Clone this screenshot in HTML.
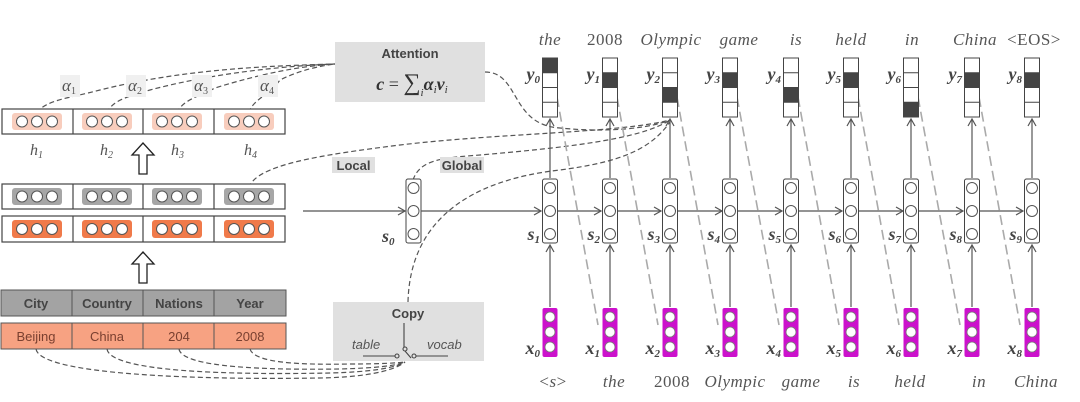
<!DOCTYPE html>
<html><head><meta charset="utf-8"><style>
html,body{margin:0;padding:0;background:#fff;}
svg{display:block;}
.sans{font-family:"Liberation Sans",sans-serif;}
.ser{font-family:"Liberation Serif",serif;}
</style></head><body>
<svg width="1080" height="402" viewBox="0 0 1080 402" xmlns="http://www.w3.org/2000/svg">
<defs>
<marker id="ah" markerWidth="10" markerHeight="10" refX="8" refY="5" orient="auto" markerUnits="userSpaceOnUse">
<path d="M1,1 L8,5 L1,9" fill="none" stroke="#555" stroke-width="1.2"/></marker>
</defs>

<!-- dark dashed curves (behind) -->
<g fill="none" stroke="#555" stroke-width="1.2" stroke-dasharray="5,3">
<path d="M37,113 C45,100 70,98 100,90 C180,70 260,66 335,64"/>
<path d="M107,113 C112,100 130,96 150,90 C210,74 280,66 335,64"/>
<path d="M177,113 C182,100 200,96 215,88 C260,74 300,66 335,64"/>
<path d="M249,113 C252,100 268,96 280,80 C300,70 320,66 335,64"/>
<path d="M485,72 C520,72 510,125 560,128 C610,133 650,128 670,120"/>
<path d="M249,188 C255,165 320,155 400,145 C500,133 620,133 670,120"/>
<path d="M413,180 C420,160 440,158 480,155 C560,148 640,140 670,120"/>
<path d="M408,302 C410,220 470,180 560,170 C620,162 650,150 670,122"/>
<path d="M36,349 C40,375 200,380 320,378 C370,377 395,370 405,362"/>
<path d="M107,349 C110,372 230,375 330,373 C370,372 395,368 405,362"/>
<path d="M179,349 C182,368 270,370 340,369 C375,368 395,366 405,362"/>
<path d="M250,349 C254,363 300,365 350,364 C380,364 397,363 405,362"/>
</g>

<!-- LEFT: rows -->
<g stroke="#444" stroke-width="1.2">
<rect x="2" y="109" width="283" height="25" fill="#fff"/>
<line x1="73" y1="109" x2="73" y2="134"/><line x1="143" y1="109" x2="143" y2="134"/><line x1="214" y1="109" x2="214" y2="134"/>
<rect x="2" y="184" width="283" height="25" fill="#fff"/>
<line x1="73" y1="184" x2="73" y2="209"/><line x1="143" y1="184" x2="143" y2="209"/><line x1="214" y1="184" x2="214" y2="209"/>
<rect x="2" y="216" width="283" height="26" fill="#fff"/>
<line x1="73" y1="216" x2="73" y2="242"/><line x1="143" y1="216" x2="143" y2="242"/><line x1="214" y1="216" x2="214" y2="242"/>
</g>
<g>
<rect x="12" y="113" width="50" height="17" rx="3" fill="#f8cdbd"/>
<rect x="82" y="113" width="50" height="17" rx="3" fill="#f8cdbd"/>
<rect x="152" y="113" width="50" height="17" rx="3" fill="#f8cdbd"/>
<rect x="224" y="113" width="50" height="17" rx="3" fill="#f8cdbd"/>
<rect x="12" y="188" width="50" height="17" rx="3" fill="#a6a6a6"/>
<rect x="82" y="188" width="50" height="17" rx="3" fill="#a6a6a6"/>
<rect x="152" y="188" width="50" height="17" rx="3" fill="#a6a6a6"/>
<rect x="224" y="188" width="50" height="17" rx="3" fill="#a6a6a6"/>
<rect x="12" y="220" width="50" height="18" rx="3" fill="#f07a4a"/>
<rect x="82" y="220" width="50" height="18" rx="3" fill="#f07a4a"/>
<rect x="152" y="220" width="50" height="18" rx="3" fill="#f07a4a"/>
<rect x="224" y="220" width="50" height="18" rx="3" fill="#f07a4a"/>
</g>
<g fill="#fff" stroke="#555" stroke-width="1">
<circle cx="22" cy="121.5" r="5.5"/><circle cx="37" cy="121.5" r="5.5"/><circle cx="52" cy="121.5" r="5.5"/>
<circle cx="92" cy="121.5" r="5.5"/><circle cx="107" cy="121.5" r="5.5"/><circle cx="122" cy="121.5" r="5.5"/>
<circle cx="162" cy="121.5" r="5.5"/><circle cx="177" cy="121.5" r="5.5"/><circle cx="192" cy="121.5" r="5.5"/>
<circle cx="234" cy="121.5" r="5.5"/><circle cx="249" cy="121.5" r="5.5"/><circle cx="264" cy="121.5" r="5.5"/>
<circle cx="22" cy="196.5" r="5.5"/><circle cx="37" cy="196.5" r="5.5"/><circle cx="52" cy="196.5" r="5.5"/>
<circle cx="92" cy="196.5" r="5.5"/><circle cx="107" cy="196.5" r="5.5"/><circle cx="122" cy="196.5" r="5.5"/>
<circle cx="162" cy="196.5" r="5.5"/><circle cx="177" cy="196.5" r="5.5"/><circle cx="192" cy="196.5" r="5.5"/>
<circle cx="234" cy="196.5" r="5.5"/><circle cx="249" cy="196.5" r="5.5"/><circle cx="264" cy="196.5" r="5.5"/>
<circle cx="22" cy="229" r="5.5"/><circle cx="37" cy="229" r="5.5"/><circle cx="52" cy="229" r="5.5"/>
<circle cx="92" cy="229" r="5.5"/><circle cx="107" cy="229" r="5.5"/><circle cx="122" cy="229" r="5.5"/>
<circle cx="162" cy="229" r="5.5"/><circle cx="177" cy="229" r="5.5"/><circle cx="192" cy="229" r="5.5"/>
<circle cx="234" cy="229" r="5.5"/><circle cx="249" cy="229" r="5.5"/><circle cx="264" cy="229" r="5.5"/>
</g>
<g class="ser" font-style="italic" font-size="16" fill="#555">
<text x="30" y="155">h<tspan font-size="10" dy="3">1</tspan></text>
<text x="100" y="155">h<tspan font-size="10" dy="3">2</tspan></text>
<text x="171" y="155">h<tspan font-size="10" dy="3">3</tspan></text>
<text x="244" y="155">h<tspan font-size="10" dy="3">4</tspan></text>
</g>
<g fill="#f0f0f0"><rect x="60" y="75" width="20" height="22"/><rect x="126" y="75" width="20" height="22"/><rect x="192" y="75" width="20" height="22"/><rect x="258" y="75" width="20" height="22"/></g>
<g class="ser" font-style="italic" font-size="17" fill="#555">
<text x="62" y="91">α<tspan font-size="10" dy="3" font-style="normal">1</tspan></text>
<text x="128" y="91">α<tspan font-size="10" dy="3" font-style="normal">2</tspan></text>
<text x="194" y="91">α<tspan font-size="10" dy="3" font-style="normal">3</tspan></text>
<text x="260" y="91">α<tspan font-size="10" dy="3" font-style="normal">4</tspan></text>
</g>
<path d="M139,174 L139,155 L132,155 L143,143 L154,155 L147,155 L147,174 Z" fill="#fff" stroke="#222" stroke-width="1.3"/>
<path d="M139,283 L139,264 L132,264 L143,252 L154,264 L147,264 L147,283 Z" fill="#fff" stroke="#222" stroke-width="1.3"/>

<!-- table -->
<rect x="1" y="290" width="285" height="26" fill="#a3a3a3" stroke="#555"/>
<rect x="1" y="323" width="285" height="26" fill="#f7a282" stroke="#555"/>
<g stroke="#555"><line x1="72" y1="290" x2="72" y2="316"/><line x1="143" y1="290" x2="143" y2="316"/><line x1="214" y1="290" x2="214" y2="316"/>
<line x1="72" y1="323" x2="72" y2="349"/><line x1="143" y1="323" x2="143" y2="349"/><line x1="214" y1="323" x2="214" y2="349"/></g>
<g class="sans" font-size="13" text-anchor="middle">
<g font-weight="bold" fill="#444"><text x="36" y="308">City</text><text x="107" y="308">Country</text><text x="179" y="308">Nations</text><text x="250" y="308">Year</text></g>
<g fill="#7a4030"><text x="36" y="341">Beijing</text><text x="107" y="341">China</text><text x="179" y="341">204</text><text x="250" y="341">2008</text></g>
</g>

<!-- boxes middle -->
<rect x="335" y="42" width="150" height="60" fill="#e0e0e0"/>
<text x="410" y="58" class="sans" font-size="13" font-weight="bold" fill="#444" text-anchor="middle">Attention</text>
<text x="412" y="90" class="ser" font-size="18" font-weight="bold" font-style="italic" fill="#333" text-anchor="middle">c <tspan font-style="normal" font-weight="normal">= </tspan><tspan font-style="normal" font-weight="normal" font-size="24">∑</tspan><tspan font-size="11" dy="6" font-weight="normal">i</tspan><tspan dy="-6">α</tspan><tspan font-size="11" dy="3" font-weight="normal">i</tspan><tspan dy="-3">v</tspan><tspan font-size="11" dy="3" font-weight="normal">i</tspan></text>
<rect x="332" y="157" width="43" height="16" fill="#e0e0e0"/>
<text x="353.5" y="170" class="sans" font-size="13" font-weight="bold" fill="#444" text-anchor="middle">Local</text>
<rect x="440" y="157" width="44" height="16" fill="#e0e0e0"/>
<text x="462" y="170" class="sans" font-size="13" font-weight="bold" fill="#444" text-anchor="middle">Global</text>
<rect x="333" y="302" width="151" height="59" fill="#e0e0e0"/>
<text x="408" y="318" class="sans" font-size="13" font-weight="bold" fill="#444" text-anchor="middle">Copy</text>
<text x="352" y="349" class="sans" font-size="13" font-style="italic" fill="#555">table</text>
<text x="427" y="349" class="sans" font-size="13" font-style="italic" fill="#555">vocab</text>
<g stroke="#444" stroke-width="1.1" fill="#e0e0e0">
<line x1="404" y1="323" x2="404" y2="347"/>
<line x1="363" y1="356" x2="395" y2="356"/><line x1="416" y1="356" x2="448" y2="356"/>
<line x1="405" y1="351" x2="411" y2="358"/>
<circle cx="405" cy="349" r="2"/><circle cx="397" cy="356" r="2"/><circle cx="414" cy="356" r="2"/>
</g>

<!-- s0 -->
<line x1="303" y1="211" x2="405" y2="211" stroke="#555" stroke-width="1.2" marker-end="url(#ah)"/>
<rect x="406" y="179" width="15" height="64" rx="2" fill="#fff" stroke="#444"/>
<g fill="#fff" stroke="#555"><circle cx="413.5" cy="188" r="5.5"/><circle cx="413.5" cy="211" r="5.5"/><circle cx="413.5" cy="234" r="5.5"/></g>
<text x="382" y="242" class="ser" font-size="18" font-weight="bold" font-style="italic" fill="#444">s<tspan font-size="11" dy="3">0</tspan></text>

<g stroke="#555" stroke-width="1.2" marker-end="url(#ah)">
<line x1="421" y1="211" x2="541" y2="211"/>
<line x1="558" y1="211" x2="601" y2="211"/>
<line x1="618" y1="211" x2="661" y2="211"/>
<line x1="678" y1="211" x2="722" y2="211"/>
<line x1="738" y1="211" x2="782" y2="211"/>
<line x1="799" y1="211" x2="842" y2="211"/>
<line x1="859" y1="211" x2="903" y2="211"/>
<line x1="919" y1="211" x2="963" y2="211"/>
<line x1="980" y1="211" x2="1023" y2="211"/>
</g>
<g stroke="#555" stroke-width="1.2" marker-end="url(#ah)">
<line x1="550" y1="307" x2="550" y2="245"/><line x1="550" y1="178" x2="550" y2="119"/>
<line x1="610" y1="307" x2="610" y2="245"/><line x1="610" y1="178" x2="610" y2="119"/>
<line x1="670" y1="307" x2="670" y2="245"/><line x1="670" y1="178" x2="670" y2="119"/>
<line x1="730" y1="307" x2="730" y2="245"/><line x1="730" y1="178" x2="730" y2="119"/>
<line x1="791" y1="307" x2="791" y2="245"/><line x1="791" y1="178" x2="791" y2="119"/>
<line x1="851" y1="307" x2="851" y2="245"/><line x1="851" y1="178" x2="851" y2="119"/>
<line x1="911" y1="307" x2="911" y2="245"/><line x1="911" y1="178" x2="911" y2="119"/>
<line x1="972" y1="307" x2="972" y2="245"/><line x1="972" y1="178" x2="972" y2="119"/>
<line x1="1032" y1="307" x2="1032" y2="245"/><line x1="1032" y1="178" x2="1032" y2="119"/>
</g>
<g stroke="#aaa" stroke-width="1.6" stroke-dasharray="10,5" fill="none">
<line x1="557" y1="97" x2="598" y2="325"/>
<line x1="617" y1="97" x2="658" y2="325"/>
<line x1="677" y1="97" x2="718" y2="325"/>
<line x1="737" y1="97" x2="779" y2="325"/>
<line x1="798" y1="97" x2="839" y2="325"/>
<line x1="858" y1="97" x2="899" y2="325"/>
<line x1="918" y1="97" x2="960" y2="325"/>
<line x1="979" y1="97" x2="1020" y2="325"/>
</g>

<g stroke="#444" stroke-width="1" fill="#fff">
<rect x="542.5" y="58" width="15" height="59"/><rect x="602.5" y="58" width="15" height="59"/><rect x="662.5" y="58" width="15" height="59"/>
<rect x="722.5" y="58" width="15" height="59"/><rect x="783.5" y="58" width="15" height="59"/><rect x="843.5" y="58" width="15" height="59"/>
<rect x="903.5" y="58" width="15" height="59"/><rect x="964.5" y="58" width="15" height="59"/><rect x="1024.5" y="58" width="15" height="59"/>
</g>
<g fill="#444">
<rect x="542.5" y="58" width="15" height="14.75"/>
<rect x="602.5" y="72.75" width="15" height="14.75"/>
<rect x="662.5" y="87.5" width="15" height="14.75"/>
<rect x="722.5" y="72.75" width="15" height="14.75"/>
<rect x="783.5" y="87.5" width="15" height="14.75"/>
<rect x="843.5" y="72.75" width="15" height="14.75"/>
<rect x="903.5" y="102.25" width="15" height="14.75"/>
<rect x="964.5" y="72.75" width="15" height="14.75"/>
<rect x="1024.5" y="72.75" width="15" height="14.75"/>
</g>
<g stroke="#444" stroke-width="1">
<path d="M542.5,72.75h15M542.5,87.5h15M542.5,102.25h15"/>
<path d="M602.5,72.75h15M602.5,87.5h15M602.5,102.25h15"/>
<path d="M662.5,72.75h15M662.5,87.5h15M662.5,102.25h15"/>
<path d="M722.5,72.75h15M722.5,87.5h15M722.5,102.25h15"/>
<path d="M783.5,72.75h15M783.5,87.5h15M783.5,102.25h15"/>
<path d="M843.5,72.75h15M843.5,87.5h15M843.5,102.25h15"/>
<path d="M903.5,72.75h15M903.5,87.5h15M903.5,102.25h15"/>
<path d="M964.5,72.75h15M964.5,87.5h15M964.5,102.25h15"/>
<path d="M1024.5,72.75h15M1024.5,87.5h15M1024.5,102.25h15"/>
</g>

<g stroke="#444" stroke-width="1" fill="#fff">
<rect x="542.5" y="179" width="15" height="64" rx="2"/><rect x="602.5" y="179" width="15" height="64" rx="2"/><rect x="662.5" y="179" width="15" height="64" rx="2"/>
<rect x="722.5" y="179" width="15" height="64" rx="2"/><rect x="783.5" y="179" width="15" height="64" rx="2"/><rect x="843.5" y="179" width="15" height="64" rx="2"/>
<rect x="903.5" y="179" width="15" height="64" rx="2"/><rect x="964.5" y="179" width="15" height="64" rx="2"/><rect x="1024.5" y="179" width="15" height="64" rx="2"/>
</g>
<g fill="#fff" stroke="#555">
<circle cx="550" cy="188" r="5.5"/><circle cx="550" cy="211" r="5.5"/><circle cx="550" cy="234" r="5.5"/>
<circle cx="610" cy="188" r="5.5"/><circle cx="610" cy="211" r="5.5"/><circle cx="610" cy="234" r="5.5"/>
<circle cx="670" cy="188" r="5.5"/><circle cx="670" cy="211" r="5.5"/><circle cx="670" cy="234" r="5.5"/>
<circle cx="730" cy="188" r="5.5"/><circle cx="730" cy="211" r="5.5"/><circle cx="730" cy="234" r="5.5"/>
<circle cx="791" cy="188" r="5.5"/><circle cx="791" cy="211" r="5.5"/><circle cx="791" cy="234" r="5.5"/>
<circle cx="851" cy="188" r="5.5"/><circle cx="851" cy="211" r="5.5"/><circle cx="851" cy="234" r="5.5"/>
<circle cx="911" cy="188" r="5.5"/><circle cx="911" cy="211" r="5.5"/><circle cx="911" cy="234" r="5.5"/>
<circle cx="972" cy="188" r="5.5"/><circle cx="972" cy="211" r="5.5"/><circle cx="972" cy="234" r="5.5"/>
<circle cx="1032" cy="188" r="5.5"/><circle cx="1032" cy="211" r="5.5"/><circle cx="1032" cy="234" r="5.5"/>
</g>

<g fill="#cc11cc">
<rect x="542.5" y="308" width="15" height="49" rx="2"/><rect x="602.5" y="308" width="15" height="49" rx="2"/><rect x="662.5" y="308" width="15" height="49" rx="2"/>
<rect x="722.5" y="308" width="15" height="49" rx="2"/><rect x="783.5" y="308" width="15" height="49" rx="2"/><rect x="843.5" y="308" width="15" height="49" rx="2"/>
<rect x="903.5" y="308" width="15" height="49" rx="2"/><rect x="964.5" y="308" width="15" height="49" rx="2"/><rect x="1024.5" y="308" width="15" height="49" rx="2"/>
</g>
<g fill="#fff" stroke="#777" stroke-width="0.8">
<circle cx="550" cy="317" r="5"/><circle cx="550" cy="332" r="5"/><circle cx="550" cy="347" r="5"/>
<circle cx="610" cy="317" r="5"/><circle cx="610" cy="332" r="5"/><circle cx="610" cy="347" r="5"/>
<circle cx="670" cy="317" r="5"/><circle cx="670" cy="332" r="5"/><circle cx="670" cy="347" r="5"/>
<circle cx="730" cy="317" r="5"/><circle cx="730" cy="332" r="5"/><circle cx="730" cy="347" r="5"/>
<circle cx="791" cy="317" r="5"/><circle cx="791" cy="332" r="5"/><circle cx="791" cy="347" r="5"/>
<circle cx="851" cy="317" r="5"/><circle cx="851" cy="332" r="5"/><circle cx="851" cy="347" r="5"/>
<circle cx="911" cy="317" r="5"/><circle cx="911" cy="332" r="5"/><circle cx="911" cy="347" r="5"/>
<circle cx="972" cy="317" r="5"/><circle cx="972" cy="332" r="5"/><circle cx="972" cy="347" r="5"/>
<circle cx="1032" cy="317" r="5"/><circle cx="1032" cy="332" r="5"/><circle cx="1032" cy="347" r="5"/>
</g>

<g class="ser" font-size="18" font-weight="bold" font-style="italic" fill="#444" text-anchor="end">
<text x="540" y="80">y<tspan font-size="11" dy="3">0</tspan></text>
<text x="600" y="80">y<tspan font-size="11" dy="3">1</tspan></text>
<text x="660" y="80">y<tspan font-size="11" dy="3">2</tspan></text>
<text x="720" y="80">y<tspan font-size="11" dy="3">3</tspan></text>
<text x="781" y="80">y<tspan font-size="11" dy="3">4</tspan></text>
<text x="841" y="80">y<tspan font-size="11" dy="3">5</tspan></text>
<text x="901" y="80">y<tspan font-size="11" dy="3">6</tspan></text>
<text x="962" y="80">y<tspan font-size="11" dy="3">7</tspan></text>
<text x="1022" y="80">y<tspan font-size="11" dy="3">8</tspan></text>
<text x="540" y="240">s<tspan font-size="11" dy="3">1</tspan></text>
<text x="600" y="240">s<tspan font-size="11" dy="3">2</tspan></text>
<text x="660" y="240">s<tspan font-size="11" dy="3">3</tspan></text>
<text x="720" y="240">s<tspan font-size="11" dy="3">4</tspan></text>
<text x="781" y="240">s<tspan font-size="11" dy="3">5</tspan></text>
<text x="841" y="240">s<tspan font-size="11" dy="3">6</tspan></text>
<text x="901" y="240">s<tspan font-size="11" dy="3">7</tspan></text>
<text x="962" y="240">s<tspan font-size="11" dy="3">8</tspan></text>
<text x="1022" y="240">s<tspan font-size="11" dy="3">9</tspan></text>
<text x="540" y="354">x<tspan font-size="11" dy="3">0</tspan></text>
<text x="600" y="354">x<tspan font-size="11" dy="3">1</tspan></text>
<text x="660" y="354">x<tspan font-size="11" dy="3">2</tspan></text>
<text x="720" y="354">x<tspan font-size="11" dy="3">3</tspan></text>
<text x="781" y="354">x<tspan font-size="11" dy="3">4</tspan></text>
<text x="841" y="354">x<tspan font-size="11" dy="3">5</tspan></text>
<text x="901" y="354">x<tspan font-size="11" dy="3">6</tspan></text>
<text x="962" y="354">x<tspan font-size="11" dy="3">7</tspan></text>
<text x="1022" y="354">x<tspan font-size="11" dy="3">8</tspan></text>
</g>

<g class="ser" font-size="17" fill="#555" text-anchor="middle" letter-spacing="0.5">
<text x="550" y="45" font-style="italic">the</text>
<text x="605" y="45">2008</text>
<text x="671" y="45" font-style="italic">Olympic</text>
<text x="739" y="45" font-style="italic">game</text>
<text x="796" y="45" font-style="italic">is</text>
<text x="851" y="45" font-style="italic">held</text>
<text x="912" y="45" font-style="italic">in</text>
<text x="975" y="45" font-style="italic">China</text>
<text x="1034" y="45">&lt;EOS&gt;</text>
<text x="553" y="387">&lt;<tspan font-style="italic">s</tspan>&gt;</text>
<text x="614" y="387" font-style="italic">the</text>
<text x="672" y="387">2008</text>
<text x="735" y="387" font-style="italic">Olympic</text>
<text x="801" y="387" font-style="italic">game</text>
<text x="854" y="387" font-style="italic">is</text>
<text x="910" y="387" font-style="italic">held</text>
<text x="979" y="387" font-style="italic">in</text>
<text x="1036" y="387" font-style="italic">China</text>
</g>
</svg>
</body></html>
